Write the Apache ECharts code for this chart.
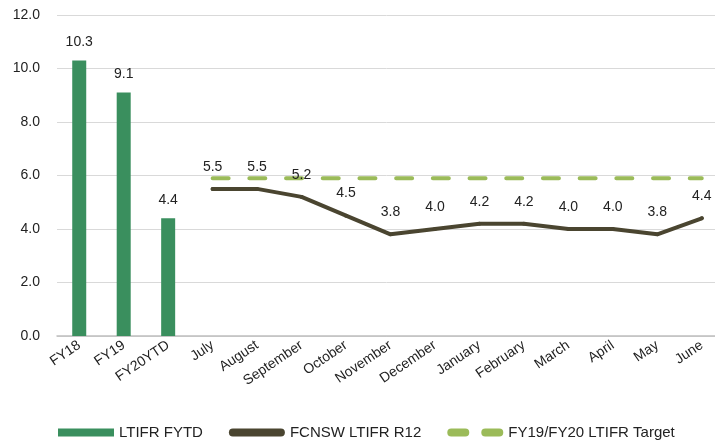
<!DOCTYPE html>
<html><head><meta charset="utf-8">
<script src="https://cdn.jsdelivr.net/npm/echarts@6/dist/echarts.min.js"></script>
<style>html,body{margin:0;padding:0;background:#fff}#c{width:715px;height:442px}</style>
</head><body><div id="c"></div>
<script>
const categories = ['FY18','FY19','FY20YTD','July','August','September','October','November','December','January','February','March','April','May','June'];
const barValues = [10.3, 9.1, 4.4, '-', '-', '-', '-', '-', '-', '-', '-', '-', '-', '-', '-'];
const lineValues = ['-', '-', '-', 5.5, 5.5, 5.2, 4.5, 3.8, 4.0, 4.2, 4.2, 4.0, 4.0, 3.8, 4.4];
const targetValues = ['-', '-', '-', 5.9, 5.9, 5.9, 5.9, 5.9, 5.9, 5.9, 5.9, 5.9, 5.9, 5.9, 5.9];
const yTicks = {min: 0, max: 12, interval: 2};

const font = 'Liberation Sans, Arial, sans-serif';
const chart = echarts.init(document.getElementById('c'));
chart.setOption({
  animation: false,
  textStyle: {fontFamily: font},
  grid: {left: 57, top: 15, width: 667, height: 321, outerBoundsMode: 'none', containLabel: false},
  legend: {
    left: 53, top: 420, itemWidth: 56, itemHeight: 8, itemGap: 26,
    textStyle: {fontSize: 15, color: '#222', fontFamily: font},
    data: [
      {name: 'LTIFR FYTD', icon: 'rect'},
      {name: 'FCNSW LTIFR R12', icon: 'path://M4,0 L52,0 A4,4 0 0 1 52,8 L4,8 A4,4 0 0 1 4,0 Z'},
      {name: 'FY19/FY20 LTIFR Target', icon: 'path://M4,0 L18,0 A4,4 0 0 1 18,8 L4,8 A4,4 0 0 1 4,0 Z M38,0 L52,0 A4,4 0 0 1 52,8 L38,8 A4,4 0 0 1 38,0 Z'}
    ]
  },
  xAxis: {
    type: 'category', data: categories,
    axisTick: {show: false},
    axisLine: {lineStyle: {color: '#bfbfbf', width: 1.5}},
    axisLabel: {rotate: 34, fontSize: 14, color: '#222', interval: 0, margin: 8, fontFamily: font}
  },
  yAxis: {
    type: 'value', min: yTicks.min, max: yTicks.max, interval: yTicks.interval,
    axisLine: {show: false}, axisTick: {show: false},
    splitLine: {lineStyle: {color: '#d9d9d9', width: 1}},
    axisLabel: {fontSize: 14, color: '#222', margin: 17, formatter: v => v.toFixed(1), fontFamily: font}
  },
  series: [
    {
      name: 'LTIFR FYTD', type: 'bar', data: barValues, barWidth: 14,
      itemStyle: {color: '#3a8f5e'},
      label: {show: true, position: 'top', distance: 11, fontSize: 14, color: '#222', formatter: p => p.value.toFixed(1)}
    },
    {
      name: 'FY19/FY20 LTIFR Target', type: 'line', data: targetValues, symbol: 'none',
      lineStyle: {color: '#9bbb59', width: 4, type: [16, 20.7], cap: 'round'},
      itemStyle: {color: '#9bbb59'}, z: 2
    },
    {
      name: 'FCNSW LTIFR R12', type: 'line', data: lineValues, symbol: 'circle', symbolSize: 4, showSymbol: true,
      lineStyle: {color: '#4a4530', width: 4, cap: 'round', join: 'round'},
      itemStyle: {color: '#4a4530'}, z: 3,
      label: {show: true, position: 'top', distance: 13, fontSize: 14, color: '#222', formatter: p => p.value.toFixed(1)},
      labelLayout: {hideOverlap: false}
    }
  ]
});
</script></body></html>
